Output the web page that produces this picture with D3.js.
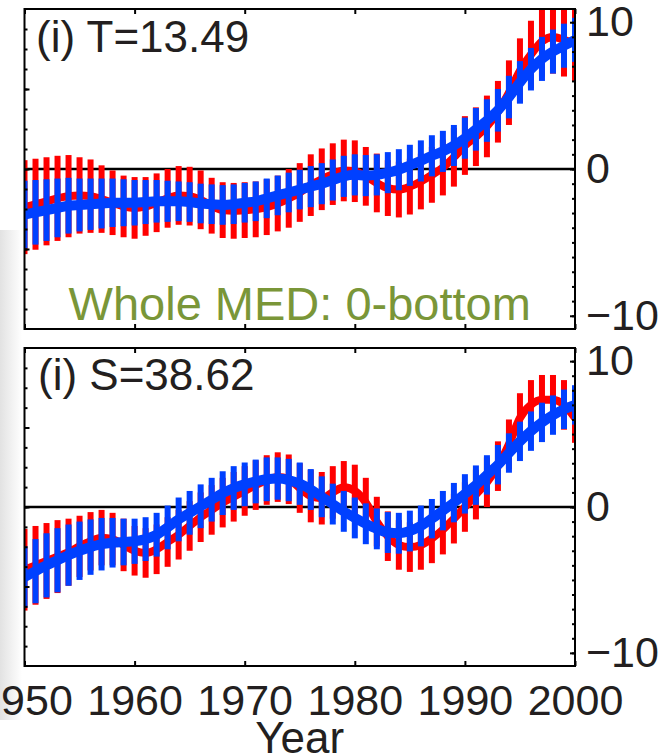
<!DOCTYPE html>
<html>
<head>
<meta charset="utf-8">
<script src="https://cdn.jsdelivr.net/npm/d3@7"></script>
<style>
  body { margin: 0; background: #fff; }
  svg { display: block; }
  text { font-family: "Liberation Sans", Arial, sans-serif; fill: #231f20; }
</style>
</head>
<body>
<script>
// data, one value per year 1950..2000
var years = d3.range(1950, 2001);

var tRed = [-2.6,-2.4,-2.2,-2.0,-1.85,-1.8,-1.85,-2.05,-2.3,-2.55,
  -2.65,-2.55,-2.3,-2.0,-1.8,-1.85,-2.1,-2.5,-2.8,-2.85,
  -2.8,-2.75,-2.6,-2.35,-2.0,-1.6,-1.1,-0.7,-0.35,-0.1,
  -0.15,-0.5,-0.95,-1.3,-1.4,-1.2,-0.85,-0.4,0.1,0.8,
  1.6,2.2,2.9,3.9,5.2,6.7,7.8,8.7,9.0,8.8,8.5];
var tBlue = [-3.1,-2.95,-2.8,-2.65,-2.5,-2.45,-2.4,-2.35,-2.3,-2.3,
  -2.3,-2.25,-2.2,-2.2,-2.2,-2.25,-2.35,-2.4,-2.45,-2.4,
  -2.3,-2.2,-2.0,-1.8,-1.6,-1.4,-1.2,-1.0,-0.75,-0.5,
  -0.4,-0.45,-0.4,-0.25,-0.05,0.25,0.55,0.9,1.2,1.6,
  2.1,2.7,3.3,4.0,4.9,5.9,6.8,7.5,8.0,8.4,8.8];
var tRedErr = [3.2,3.1,3.0,2.9,2.8,2.6,2.5,2.3,2.2,2.1,
  2.1,2.0,2.0,2.0,2.0,2.0,2.0,1.9,1.9,1.9,
  1.9,1.9,1.9,1.9,2.0,2.0,2.1,2.1,2.1,2.1,
  2.1,2.0,2.0,1.9,1.9,1.9,1.9,1.9,1.9,2.0,
  2.0,2.0,2.1,2.1,2.2,2.2,2.3,2.4,2.5,2.5,2.5];
var tBlueErr = [2.3,2.2,2.1,2.0,1.9,1.8,1.75,1.7,1.65,1.6,
  1.55,1.5,1.45,1.4,1.35,1.35,1.35,1.35,1.35,1.35,
  1.35,1.35,1.35,1.35,1.35,1.35,1.4,1.4,1.4,1.4,
  1.4,1.4,1.4,1.4,1.4,1.4,1.4,1.4,1.4,1.4,
  1.4,1.45,1.45,1.45,1.45,1.45,1.45,1.5,1.5,1.5,1.5];

var sRed = [-4.3,-4.0,-3.7,-3.4,-3.1,-2.7,-2.35,-2.1,-2.2,-2.6,
  -3.0,-3.15,-2.9,-2.4,-1.9,-1.3,-0.7,-0.2,0.3,0.7,
  1.1,1.5,1.85,2.05,1.9,1.3,0.75,0.6,1.0,1.35,
  1.1,0.3,-1.0,-2.0,-2.6,-2.75,-2.6,-2.15,-1.55,-0.8,
  0.0,0.85,1.7,2.8,4.3,6.1,7.0,7.35,7.35,7.0,6.1];
var sBlue = [-4.8,-4.4,-4.0,-3.65,-3.3,-3.0,-2.75,-2.55,-2.45,-2.4,
  -2.35,-2.2,-1.9,-1.4,-0.85,-0.4,0.05,0.5,0.95,1.3,
  1.55,1.75,1.9,1.95,1.85,1.6,1.2,0.7,0.2,-0.3,
  -0.75,-1.15,-1.5,-1.75,-1.8,-1.65,-1.3,-0.8,-0.25,0.3,
  0.9,1.5,2.2,2.9,3.7,4.5,5.2,5.8,6.3,6.7,7.0];
var sRedErr = [2.8,2.7,2.6,2.5,2.3,2.1,2.0,1.9,1.8,1.8,
  1.7,1.7,1.7,1.7,1.7,1.7,1.7,1.7,1.7,1.7,
  1.7,1.7,1.7,1.7,1.7,1.7,1.8,1.8,1.8,1.8,
  1.8,1.7,1.7,1.7,1.7,1.7,1.7,1.7,1.7,1.7,
  1.7,1.7,1.7,1.7,1.7,1.7,1.7,1.7,1.7,1.7,1.7];
var sBlueErr = [2.1,2.2,2.2,2.2,2.1,2.0,1.9,1.8,1.7,1.6,
  1.55,1.5,1.5,1.5,1.5,1.5,1.5,1.5,1.5,1.5,
  1.5,1.5,1.5,1.45,1.45,1.45,1.4,1.4,1.4,1.4,
  1.4,1.4,1.4,1.4,1.4,1.4,1.4,1.35,1.35,1.35,
  1.35,1.35,1.35,1.35,1.35,1.35,1.35,1.35,1.35,1.35,1.35];

var xTicks = [1950, 1960, 1970, 1980, 1990, 2000];
var yTicks = [-10, 0, 10];
var titles = ["(i) T=13.49", "(i) S=38.62"];
var regionLabel = "Whole MED: 0-bottom";

var width = 658, height = 755;
var left = 24.5, right = 575;
var red = "#ff0000", blue = "#0040ff";

var svg = d3.select("body").append("svg")
    .attr("width", width)
    .attr("height", height);

// faint shadow on the left edge of the screenshot
var grad = svg.append("defs").append("linearGradient")
    .attr("id", "shade").attr("x1", 0).attr("x2", 1).attr("y1", 0).attr("y2", 0);
grad.append("stop").attr("offset", 0).attr("stop-color", "#e2e2e2");
grad.append("stop").attr("offset", 1).attr("stop-color", "#ffffff");
svg.append("rect").attr("x", 0).attr("y", 230).attr("width", 22).attr("height", 490)
    .attr("fill", "url(#shade)");

var x = d3.scaleLinear().domain([1950, 2000]).range([left, right]);

var panels = [
  {top: 9, bottom: 329, red: tRed, blue: tBlue, redErr: tRedErr, blueErr: tBlueErr, title: titles[0], titleX: 36, titleY: 52},
  {top: 348, bottom: 666, red: sRed, blue: sBlue, redErr: sRedErr, blueErr: sBlueErr, title: titles[1], titleX: 38, titleY: 390}
];

panels.forEach(function(p, i) {
  var y = d3.scaleLinear().domain([-10.9, 10.9]).range([p.bottom, p.top]);
  // left axis has its own (unlabelled) scale in the original
  var yLeft = d3.scaleLinear().domain([-4, 4]).range([p.bottom, p.top]);

  var g = svg.append("g");

  g.append("clipPath").attr("id", "clip" + i)
    .append("rect")
    .attr("x", left).attr("y", p.top)
    .attr("width", right - left).attr("height", p.bottom - p.top);

  // zero line
  g.append("line")
    .attr("x1", left).attr("x2", right)
    .attr("y1", y(0)).attr("y2", y(0))
    .attr("stroke", "#000").attr("stroke-width", 2.5);

  var plot = g.append("g").attr("clip-path", "url(#clip" + i + ")");

  var line = d3.line()
      .x(function(d, j) { return x(years[j]); })
      .y(function(d) { return y(d); })
      .curve(d3.curveMonotoneX);

  function bars(vals, errs, colour) {
    plot.selectAll(null)
      .data(vals)
      .enter().append("rect")
      .attr("x", function(d, j) { return x(years[j]) - 3; })
      .attr("width", 6)
      .attr("y", function(d, j) { return y(d + errs[j]); })
      .attr("height", function(d, j) { return y(d - errs[j]) - y(d + errs[j]); })
      .attr("fill", colour);
  }

  bars(p.red, p.redErr, red);
  plot.append("path").datum(p.red)
    .attr("d", line).attr("fill", "none")
    .attr("stroke", red).attr("stroke-width", 8);
  bars(p.blue, p.blueErr, blue);
  plot.append("path").datum(p.blue)
    .attr("d", line).attr("fill", "none")
    .attr("stroke", blue).attr("stroke-width", 10);

  // right axis: labelled majors + minor ticks, all pointing inward
  var rightAxis = g.append("g")
    .attr("transform", "translate(" + right + ",0)")
    .call(d3.axisRight(y).tickValues(yTicks).tickSizeInner(-5).tickSizeOuter(0).tickPadding(11));
  rightAxis.selectAll("text").style("font-size", "43px").attr("text-anchor", "start");
  g.append("g")
    .attr("transform", "translate(" + right + ",0)")
    .call(d3.axisRight(y).tickValues(d3.range(-10, 11)).tickSizeInner(-3).tickSizeOuter(0).tickFormat(""));

  // left axis ticks
  g.append("g")
    .attr("transform", "translate(" + left + ",0)")
    .call(d3.axisLeft(yLeft).tickValues([-2, 0, 2]).tickSizeInner(-5).tickSizeOuter(0).tickFormat(""));
  g.append("g")
    .attr("transform", "translate(" + left + ",0)")
    .call(d3.axisLeft(yLeft).tickValues(d3.range(-3.5, 4, 0.5)).tickSizeInner(-3).tickSizeOuter(0).tickFormat(""));

  // top and bottom ticks
  g.append("g")
    .attr("transform", "translate(0," + p.top + ")")
    .call(d3.axisTop(x).tickValues(xTicks).tickSizeInner(-5).tickSizeOuter(0).tickFormat(""));
  var bottomAxis = g.append("g")
    .attr("transform", "translate(0," + p.bottom + ")")
    .call(d3.axisBottom(x).tickValues(xTicks).tickSizeInner(-5).tickSizeOuter(0)
      .tickPadding(18).tickFormat(i == 1 ? d3.format("d") : ""));
  bottomAxis.selectAll("text").style("font-size", "43px");

  g.selectAll(".domain").remove();
  g.selectAll(".tick line").attr("stroke", "#000").attr("stroke-width", 2);
  g.selectAll(".tick text").style("fill", "#231f20");

  // frame
  g.append("rect")
    .attr("x", left).attr("y", p.top)
    .attr("width", right - left).attr("height", p.bottom - p.top)
    .attr("fill", "none").attr("stroke", "#000").attr("stroke-width", 2);

  g.append("text")
    .attr("x", p.titleX).attr("y", p.titleY)
    .style("font-size", "44px")
    .text(p.title);

  if (i == 0) {
    g.append("text")
      .attr("x", (left + right) / 2).attr("y", 320)
      .attr("text-anchor", "middle")
      .style("font-size", "47px")
      .style("fill", "#7a9638")
      .text(regionLabel);
  }
});

svg.append("text")
  .attr("x", (left + right) / 2).attr("y", 753)
  .attr("text-anchor", "middle")
  .style("font-size", "44px")
  .text("Year");
</script>
</body>
</html>
